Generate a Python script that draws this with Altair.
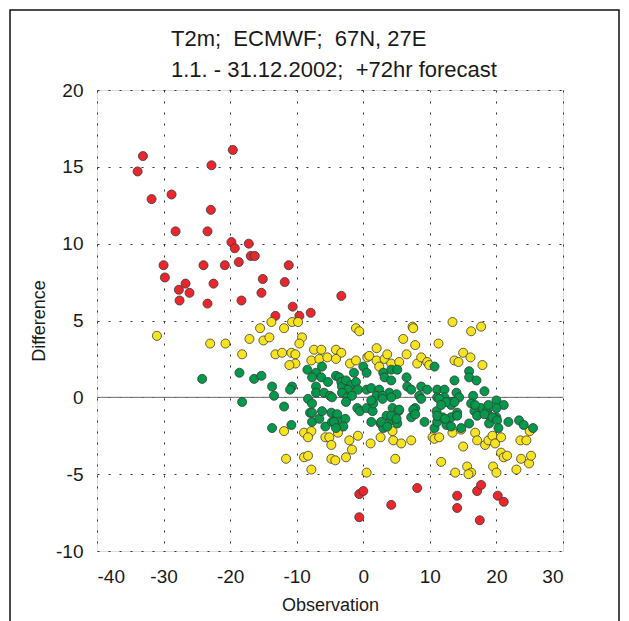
import altair as alt
import pandas as pd

# ---- data ----
red_x = [-33.1, -33.9, -19.6, -22.8, -31.8, -28.8, -22.9, -28.2, -23.4, -19.8,
         -17.2, -19.3, -16.9, -16.3, -30.0, -24.0, -20.8, -18.7, -11.2, -29.8,
         -26.7, -22.5, -15.1, -11.8, -27.7, -26.1, -15.3, -27.6, -23.4, -18.3,
         -10.6, -13.2, -9.6, -7.9, -3.3, -0.6, 0.0, -0.6, 4.2, 8.1,
         14.1, 14.1, 17.1, 17.7, 17.5, 20.2, 21.1]
red_y = [15.7, 14.7, 16.1, 15.1, 12.9, 13.2, 12.2, 10.8, 10.8, 10.1,
         10.0, 9.7, 9.2, 9.2, 8.6, 8.6, 8.6, 8.8, 8.6, 7.8,
         7.4, 7.4, 7.7, 7.5, 7.0, 6.8, 6.8, 6.3, 6.1, 6.3,
         5.9, 5.3, 5.3, 5.5, 6.6, -6.3, -6.1, -7.8, -7.0, -5.9,
         -6.4, -7.2, -6.1, -5.7, -8.0, -6.4, -6.8]

yellow_x = [-31.0, -23.0, -20.7, -18.2, -15.5, -13.8, -17.1, -15.0, -14.1, -11.9,
            -10.7, -9.8, -9.2, -9.6, -13.2, -12.2, -10.8, -10.2, -10.2, -11.1,
            -7.8, -7.4, -6.3, -4.1, -3.3, -6.6, -5.4, -4.1, -2.0, -1.1,
            -1.1, -0.6, 0.6, 2.0, 0.9, 2.0, 2.4, 3.2, 3.6, 4.2,
            5.4, 7.4, 7.5, 13.4, 6.0, 7.8, 11.3, 6.5, 8.1, 8.7,
            9.6, 9.9, 13.7, 14.3, 17.7, 16.2, 15.0, 16.1, 17.9,
            -11.9, -8.9, -7.8, -8.3, -5.7, -5.1, -4.8, -3.8, -2.1, -1.7,
            -0.8, -11.6, -8.9, -8.3, -7.8, -4.8, -4.2, -2.6, 0.5, 2.6,
            1.1, 4.4, 4.5, 5.7, 7.2, 10.4, 10.7, 11.4, 13.4, 4.8,
            11.7, 13.8, 14.7, 15.0, 15.6, 16.2, 15.8, 16.8, 17.1, 18.3,
            18.8, 19.4, 19.8, 19.5, 20.0, 20.7, 20.7, 21.1, 21.6, 23.0,
            23.7, 23.6, 24.5, 24.9, 25.2, 25.0]
yellow_y = [4.0, 3.5, 3.5, 2.8, 4.5, 4.9, 3.8, 3.7, 3.9, 4.5,
            4.9, 4.9, 3.9, 3.5, 2.8, 2.9, 2.9, 2.8, 2.2, 2.1,
            2.4, 3.1, 3.1, 3.1, 2.9, 2.5, 2.6, 2.5, 2.2, 2.4,
            4.5, 4.3, 2.6, 3.2, 2.7, 2.4, 2.0, 2.5, 2.8, 2.2,
            2.3, 4.6, 4.5, 4.9, 3.8, 3.4, 3.5, 2.8, 2.2, 2.6,
            2.3, 2.1, 2.4, 2.3, 4.6, 4.3, 2.9, 2.6, 2.1,
            -2.2, -2.3, -2.2, -2.6, -2.6, -2.6, -3.1, -2.3, -2.8, -3.4,
            -2.5, -4.0, -3.9, -3.8, -4.7, -4.0, -4.1, -3.9, -4.9, -2.6,
            -3.0, -2.2, -2.8, -3.0, -2.8, -2.6, -2.7, -2.6, -2.3, -4.0,
            -4.2, -4.9, -2.1, -3.2, -4.5, -4.9, -5.0, -2.3, -2.8, -3.1,
            -2.8, -2.5, -3.0, -4.5, -4.9, -2.6, -3.6, -3.9, -3.8, -4.7,
            -4.0, -2.8, -2.8, -4.3, -3.8, -2.2]

green_x = [-24.2, -18.6, -16.4, -15.3, -13.7, -13.4, -10.7, -11.0, -11.9, -18.2,
           -8.4, -8.3, -13.7, -10.8, -8.0, -6.2, -7.1, -7.7, -6.3, -5.3,
           -4.1, -3.6, -3.3, -3.2, -2.6, -1.8, -2.3, -1.4, 0.0, 0.5,
           -1.1, -0.8, 0.5, -7.1, -7.1, -5.9, -5.0, -4.7, -3.2, -2.4,
           -1.7, 10.7, 3.0, 4.2, 5.1, 3.2, 4.2, 6.5, 6.6, 7.2,
           8.7, 9.6, 11.1, 12.2, 13.7, 1.2, 2.4, 3.9, 5.0, 2.0,
           2.9, 4.2, 8.4, 11.1, 12.2, 15.9, 15.9, 17.0, 14.0, 18.2,
           16.5, 14.4, 20.0, 13.4, 16.2, 17.7, 18.6, 21.1, 20.0, 16.7,
           18.9, 20.0, 23.4, -7.7, -7.7, -7.7, -6.6, -6.2, -5.7, -4.8,
           -4.7, -3.9, -3.6, -2.7, -3.0, -2.6, -0.9, -0.5, 0.5, -4.4,
           -4.1, 1.2, 1.4, 1.5, 2.6, 3.5, 3.0, 4.2, 4.4, 5.1,
           5.3, 7.2, 7.8, 9.2, 10.7, 11.0, 11.1, 11.9, 12.5, 13.2,
           13.2, 13.2, 14.1, 14.7, 15.9, 16.8, 17.1, 18.2, 18.8, 18.9,
           19.4, 20.1, 20.3, 21.8, 25.5, 1.2, 2.9, 4.2, 5.4, 7.5,
           7.8, 2.7, 3.6, 5.0, 11.1, 12.3, 14.1, 8.7, 11.4, 12.5,
           11.7, 13.7, 24.1]
green_y = [1.2, 1.6, 1.2, 1.4, 0.7, 0.1, 0.7, 0.5, -0.6, -0.3,
           1.8, -0.1, -2.0, -1.8, -1.0, 2.0, 1.6, 1.3, 1.3, 1.0,
           1.4, 1.3, 1.0, 0.7, 1.1, 0.8, 0.5, 1.6, 2.0, 1.6,
           1.0, 0.5, 0.5, 0.7, 0.3, 0.3, 0.1, 0.0, 0.3, 0.0,
           0.1, 2.0, 1.6, 1.8, 1.8, 1.3, 1.1, 1.3, 0.7, 0.5,
           0.7, 0.5, 0.5, 0.5, 1.1, 0.6, 0.5, 0.3, 0.2, 0.1,
           0.1, 0.0, 0.1, 0.0, 0.0, 1.7, 1.3, 1.1, 0.3, 0.4,
           0.1, 0.0, -0.2, -0.3, -0.4, -0.7, -0.9, -0.5, -0.7, -0.9,
           -1.2, -1.3, -1.5, -0.4, -1.0, -1.6, -1.4, -0.9, -1.9, -1.0,
           -1.6, -1.1, -1.6, -1.4, -1.9, -0.3, -0.7, -0.9, -0.7, -1.6,
           -2.0, -1.6, -0.9, -0.4, -1.7, -1.2, -2.0, -1.5, -0.7, -1.7,
           -0.9, -1.3, -0.7, -1.6, -2.0, -0.9, -1.6, -1.3, -1.8, -0.5,
           -1.3, -1.9, -1.0, -2.0, -1.7, -0.5, -1.2, -1.1, -0.5, -1.7,
           -1.3, -1.5, -2.0, -1.6, -2.0, -0.2, -0.1, -1.2, -0.8, -0.8,
           -1.1, -1.6, -1.9, -1.4, -1.2, -1.4, -1.2, -0.1, -0.1, -0.3,
           -0.5, -0.3, -1.8]

# double spaces kept visible with a no-break space
title_lines = ["T2m;\u00a0 ECMWF;\u00a0 67N, 27E", "1.1. - 31.12.2002;\u00a0 +72hr forecast"]
x_ticks = [-40, -30, -20, -10, 0, 10, 20, 30]
y_ticks = [-10, -5, 0, 5, 10, 15, 20]
classes = ["red", "yellow", "green"]
class_colors = ["#e8262b", "#f8e41e", "#00984a"]

df = pd.DataFrame({
    "Observation": red_x + yellow_x + green_x,
    "Difference": red_y + yellow_y + green_y,
    "cls": ["red"] * len(red_x) + ["yellow"] * len(yellow_x) + ["green"] * len(green_x),
    "order": [0] * len(red_x) + [1] * len(yellow_x) + [2] * len(green_x),
})

FONT = "Liberation Sans"
TXT = "#1a1a1a"

common_axis = dict(grid=True, gridDash=[2, 9], gridColor="#333", gridWidth=1,
                   domain=False, ticks=False, labelFontSize=19, titleFontSize=18,
                   titleFontWeight="normal", labelColor=TXT, titleColor=TXT,
                   labelFont=FONT, titleFont=FONT, labelExpr="'' + datum.value")

x_enc = alt.X("Observation:Q",
              scale=alt.Scale(domain=[-40, 30], nice=False, zero=False),
              axis=alt.Axis(values=x_ticks, labelPadding=16, titlePadding=10,
                            title="Observation", **common_axis))
y_enc = alt.Y("Difference:Q",
              scale=alt.Scale(domain=[-10, 20], nice=False, zero=False),
              axis=alt.Axis(values=y_ticks, labelPadding=14, titlePadding=7,
                            title="Difference", **common_axis))

points = alt.Chart(df).mark_circle(size=82, opacity=1, stroke="#3a3a3a",
                                   strokeWidth=0.8).encode(
    x=x_enc,
    y=y_enc,
    color=alt.Color("cls:N", scale=alt.Scale(domain=classes, range=class_colors), legend=None),
    order=alt.Order("order:Q"),
)

zero_line = alt.Chart(pd.DataFrame({"z": [0]})).mark_rule(color="#6b6b6b", strokeWidth=1).encode(
    y=alt.Y("z:Q")
)

frame = alt.Chart(pd.DataFrame({"a": [0]})).mark_rect(
    fill=None, fillOpacity=0, stroke="#111111", strokeWidth=1.5
).encode(
    x=alt.value(-87), x2=alt.value(522), y=alt.value(-80), y2=alt.value(545)
)

title1 = alt.Chart(pd.DataFrame({"t": [title_lines[0]]})).mark_text(
    align="left", baseline="alphabetic", fontSize=22, font=FONT, color=TXT
).encode(text="t:N", x=alt.value(74), y=alt.value(-44))
title2 = alt.Chart(pd.DataFrame({"t": [title_lines[1]]})).mark_text(
    align="left", baseline="alphabetic", fontSize=22, font=FONT, color=TXT
).encode(text="t:N", x=alt.value(74), y=alt.value(-13))

chart = alt.layer(frame, zero_line, points, title1, title2).properties(
    width=466,
    height=461,
    autosize=alt.AutoSizeParams(type="none"),
    padding={"left": 97, "top": 90, "right": 66, "bottom": 70},
).configure_view(stroke="#8a8a8a", strokeWidth=1.5).configure(background="white")

chart.save("out.html", embed_options={"renderer": "svg", "actions": False})
